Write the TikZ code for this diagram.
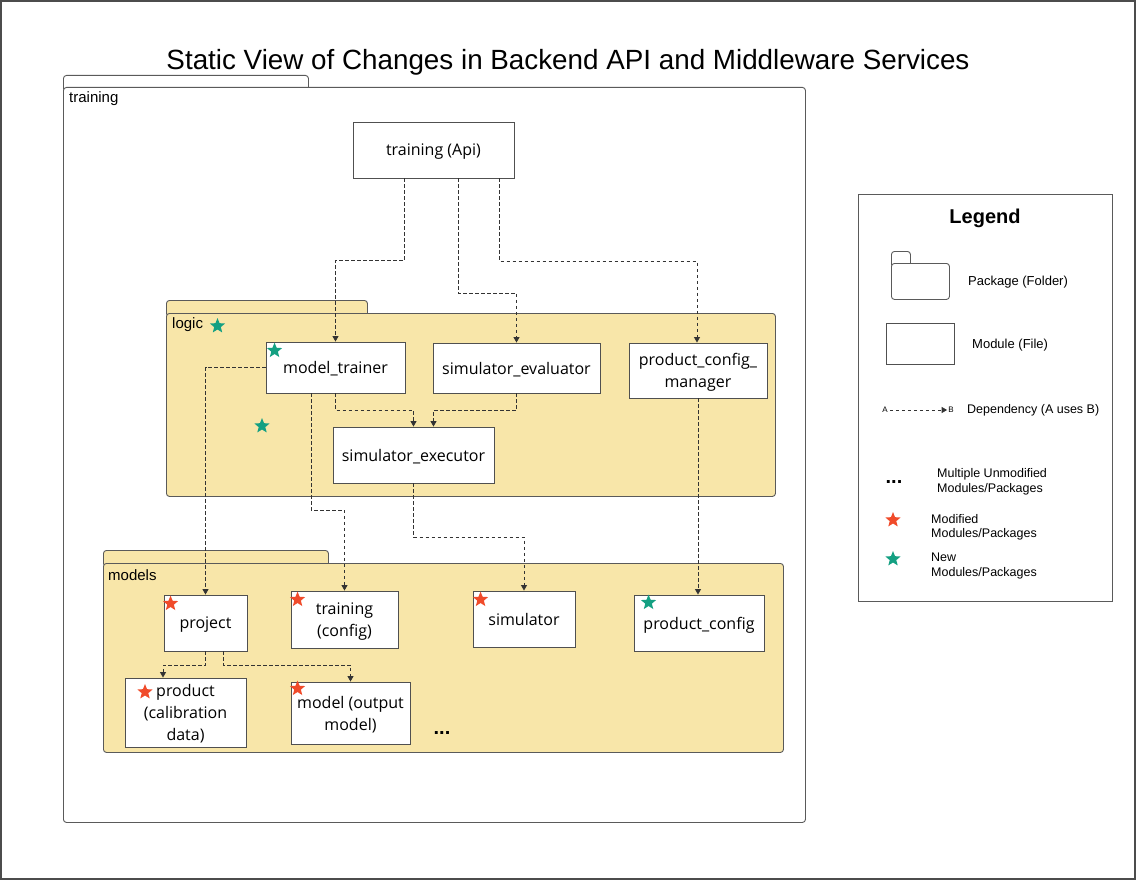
\documentclass[tikz,border=0pt]{standalone}
\usepackage{fontspec}
\setmainfont{Open Sans}
\newfontfamily\arialfont{Liberation Sans}
\usetikzlibrary{arrows.meta, positioning, shapes.geometric}
\definecolor{pkgfill}{HTML}{F8E6A9}
\definecolor{pkgline}{HTML}{5A5A5A}
\definecolor{boxline}{HTML}{505050}
\definecolor{depline}{HTML}{333333}
\definecolor{modstar}{HTML}{F04B2A}
\definecolor{newstar}{HTML}{14A082}

\begin{document}
\begin{tikzpicture}[x=1pt, y=-1pt,
    module/.style={rectangle, draw=boxline, line width=0.9pt, fill=white, inner sep=2pt, align=center, text depth=-5pt, font=\fontsize{16}{22}\selectfont},
    pkgbox/.style={rectangle, draw=pkgline, line width=0.9pt, rounded corners=3pt, inner sep=0pt, anchor=north west},
    pkglabel/.style={anchor=west, inner sep=0pt, font=\arialfont\fontsize{15}{18}\selectfont},
    dep/.style={draw=depline, line width=0.9pt, dash pattern=on 3.5pt off 2.5pt, -{Triangle[width=6pt,length=5.5pt]}},
    starmark/.style={star, star points=5, star point ratio=2.3, minimum size=16pt, inner sep=0pt, draw=none},
    legtext/.style={anchor=west, align=left, inner sep=0pt, font=\arialfont\fontsize{12.5}{14.5}\selectfont},
    dots/.style={inner sep=0pt, font=\arialfont\bfseries\fontsize{20}{22}\selectfont}]
    \useasboundingbox (0,0) rectangle (1136,880);
    \draw[draw=black!70, line width=2pt] (1,1) rectangle (1135,879);

    % title
    \node[font=\arialfont\fontsize{27.8}{32}\selectfont] (title) at (568,62) {Static View of Changes in Backend API and Middleware Services};

    % packages
    \node[pkgbox, fill=white, minimum width=245pt, minimum height=16pt] (traintab) at (63,75) {};
    \node[pkgbox, fill=white, minimum width=742pt, minimum height=735pt] (trainpkg) at (63,87) {};
    \node[pkglabel] (trainlabel) at (69,98.5) {training};

    \node[pkgbox, fill=pkgfill, minimum width=201pt, minimum height=16pt] (logictab) at (166,300) {};
    \node[pkgbox, fill=pkgfill, minimum width=609pt, minimum height=183pt] (logicpkg) at (166,313) {};
    \node[pkglabel] (logiclabel) at (172,324.5) {logic};
    \node[starmark, fill=newstar] (logicstar) at (217.5,326) {};
    \node[starmark, fill=newstar] (loosestar) at (262,426) {};

    \node[pkgbox, fill=pkgfill, minimum width=225pt, minimum height=16pt] (modelstab) at (103,550) {};
    \node[pkgbox, fill=pkgfill, minimum width=680pt, minimum height=189pt] (modelspkg) at (103,563) {};
    \node[pkglabel] (modelslabel) at (108,575) {models};

    % modules
    \node[module, minimum width=161pt, minimum height=56pt] (api) at (433.5,150) {training (Api)};
    \node[module, minimum width=139pt, minimum height=51pt] (mt) at (335.5,367.5) {model\_trainer};
    \node[module, minimum width=167pt, minimum height=50pt] (se) at (516.5,368) {simulator\_evaluator};
    \node[module, minimum width=138pt, minimum height=55pt] (pcm) at (698,370.5) {product\_config\_\\manager};
    \node[module, minimum width=161pt, minimum height=56pt] (sx) at (413.5,455) {simulator\_executor};
    \node[module, minimum width=83pt, minimum height=56pt] (proj) at (205.5,623) {project};
    \node[module, minimum width=107pt, minimum height=57pt] (tc) at (344.5,619.5) {training\\(config)};
    \node[module, minimum width=102pt, minimum height=56pt] (sim) at (524,619) {simulator};
    \node[module, minimum width=130pt, minimum height=56pt] (pc) at (699,623) {product\_config};
    \node[module, minimum width=121pt, minimum height=69pt] (prod) at (185.5,712.5) {product\\(calibration\\data)};
    \node[module, minimum width=119pt, minimum height=62pt] (mod) at (350.5,713) {model (output\\model)};
    \node[dots] (moredots) at (442,733) {...};

    % change markers
    \node[starmark, fill=newstar] (mtstar) at ([xshift=9pt,yshift=-9pt]mt.north west) {};
    \node[starmark, fill=modstar] (projstar) at ([xshift=7pt,yshift=-9pt]proj.north west) {};
    \node[starmark, fill=modstar] (tcstar) at ([xshift=7pt,yshift=-9pt]tc.north west) {};
    \node[starmark, fill=modstar] (simstar) at ([xshift=8pt,yshift=-9pt]sim.north west) {};
    \node[starmark, fill=newstar] (pcstar) at ([xshift=15pt,yshift=-8pt]pc.north west) {};
    \node[starmark, fill=modstar] (prodstar) at (145,692) {};
    \node[starmark, fill=modstar] (modstar) at ([xshift=7pt,yshift=-7pt]mod.north west) {};

    % dependencies
    \draw[dep] ([xshift=-29pt]api.south) -- ++(0,82) -| (mt.north);
    \draw[dep] ([xshift=24.5pt]api.south) -- ++(0,115) -| (se.north);
    \draw[dep] ([xshift=66pt]api.south) -- ++(0,83) -| ([xshift=-1pt]pcm.north);
    \draw[dep] (mt.west) -| (proj.north);
    \draw[dep] ([xshift=-24.5pt]mt.south) -- ++(0,117) -| (tc.north);
    \draw[dep] (mt.south) -- ++(0,17) -| (sx.north);
    \draw[dep] (se.south) -- ++(0,17) -| ([xshift=20pt]sx.north);
    \draw[dep] (sx.south) -- ++(0,54) -| (sim.north);
    \draw[dep] (pcm.south) -- (pcm.south |- pc.north);
    \draw[dep] (proj.south) -- ++(0,14) -| ([xshift=-22.5pt]prod.north);
    \draw[dep] ([xshift=17.5pt]proj.south) -- ++(0,14) -| (mod.north);

    % legend
    \node[rectangle, draw=pkgline, line width=1pt, minimum width=254pt, minimum height=407pt, anchor=north west] (legend) at (858,194) {};
    \node[font=\arialfont\bfseries\fontsize{20}{24}\selectfont] (legtitle) at (985,218) {Legend};
    \node[pkgbox, fill=white, minimum width=19pt, minimum height=16pt] (legtab) at (891,251) {};
    \node[pkgbox, fill=white, minimum width=58pt, minimum height=36pt] (legpkg) at (891,263) {};
    \node[legtext, font=\arialfont\fontsize{13}{15}\selectfont] (legpkgtext) at (968,282) {Package (Folder)};
    \node[rectangle, draw=boxline, line width=1pt, minimum width=68pt, minimum height=41pt, anchor=north west] (legmod) at (886,323) {};
    \node[legtext, font=\arialfont\fontsize{13}{15}\selectfont] (legmodtext) at (972,345) {Module (File)};
    \node[inner sep=2pt, font=\arialfont\fontsize{8}{9}\selectfont] (depa) at (885,410) {A};
    \node[inner sep=1pt, font=\arialfont\fontsize{8}{9}\selectfont] (depb) at (951,410) {B};
    \draw[dep, line width=0.8pt] (depa) -- (depb);
    \node[legtext] (legdeptext) at (967,410) {Dependency (A uses B)};
    \node[dots] (legdots) at (894,482) {...};
    \node[legtext] (legdotstext) at (937,482) {Multiple Unmodified\\Modules/Packages};
    \node[starmark, fill=modstar] (legmodstar) at (893,520) {};
    \node[legtext] (legmodiftext) at (931,527.5) {Modified\\Modules/Packages};
    \node[starmark, fill=newstar] (legnewstar) at (893,559) {};
    \node[legtext] (legnewtext) at (931,566) {New\\Modules/Packages};
\end{tikzpicture}
\end{document}
